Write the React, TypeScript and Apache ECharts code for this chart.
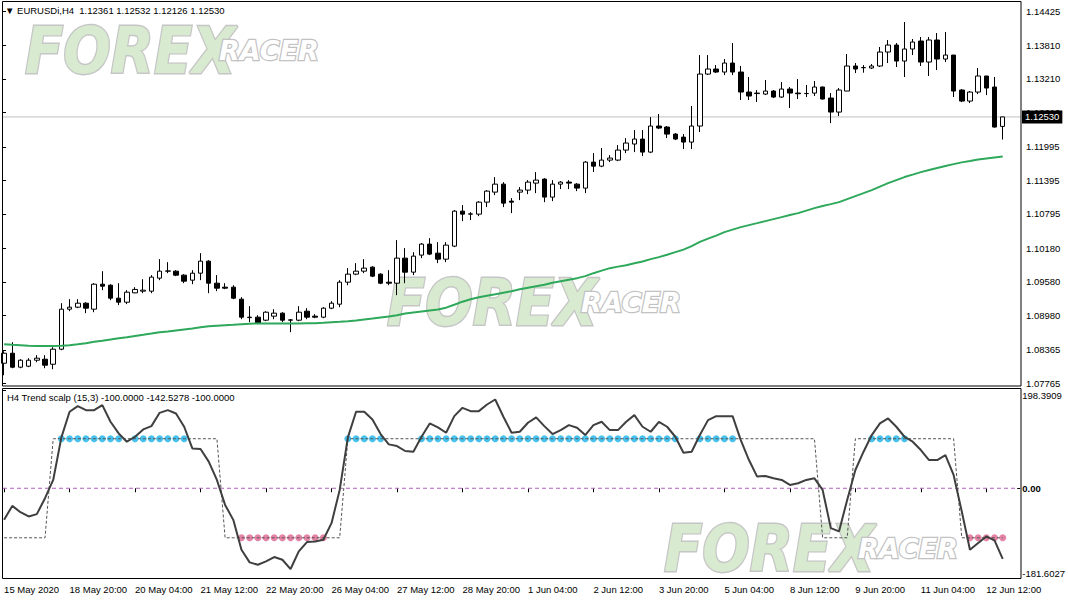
import React, { useEffect, useRef } from "react";
import * as echarts from "echarts";

const FONT = '"Liberation Sans", Arial, sans-serif';
const symbolName = "EURUSDi,H4";
const indicatorName = "H4 Trend scalp (15,3)";

const openPrices = [1.08124,1.08303,1.08053,1.08071,1.08178,1.08196,1.08106,1.08375,1.09091,1.09127,
 1.09198,1.09091,1.09538,1.09520,1.09288,1.09216,1.09383,1.09413,1.09413,1.09646,
 1.09771,1.09771,1.09700,1.09610,1.09735,1.09950,1.09556,1.09485,1.09485,1.09270,
 1.08948,1.08948,1.08894,1.08966,1.09020,1.08894,1.08894,1.09055,1.08966,1.08948,
 1.09109,1.09180,1.09574,1.09718,1.09771,1.09843,1.09718,1.09574,1.09556,1.10004,
 1.09753,1.10058,1.10255,1.10093,1.09986,1.10219,1.10845,1.10791,1.10791,1.11006,
 1.11185,1.11328,1.11024,1.11185,1.11221,1.11346,1.11418,1.11096,1.11328,1.11364,
 1.11328,1.11257,1.11722,1.11650,1.11758,1.11758,1.11937,1.12045,1.12134,1.11901,
 1.12367,1.12349,1.12223,1.12169,1.12080,1.12367,1.13297,1.13387,1.13333,1.13494,
 1.13333,1.12975,1.12957,1.12939,1.12993,1.12886,1.13029,1.12957,1.12948,1.12957,
 1.13065,1.12868,1.12617,1.12993,1.13441,1.13410,1.13405,1.13441,1.13691,1.13816,
 1.13530,1.13745,1.13888,1.13512,1.13906,1.13566,1.13637,1.13011,1.12814,1.12975,
 1.13262,1.13065,1.12361];

const closePrices = [1.08303,1.08053,1.08178,1.08178,1.08214,1.08089,1.08375,1.09091,1.09127,1.09198,
 1.09109,1.09538,1.09502,1.09288,1.09216,1.09395,1.09444,1.09431,1.09664,1.09771,
 1.09775,1.09700,1.09592,1.09735,1.09950,1.09556,1.09467,1.09467,1.09288,1.08948,
 1.08940,1.08840,1.09037,1.09020,1.08894,1.08900,1.09037,1.08948,1.08948,1.09109,
 1.09198,1.09574,1.09718,1.09771,1.09825,1.09682,1.09556,1.09556,1.10004,1.09753,
 1.10040,1.10255,1.10076,1.09986,1.10237,1.10845,1.10791,1.10796,1.11006,1.11203,
 1.11328,1.10988,1.11006,1.11221,1.11364,1.11400,1.11096,1.11328,1.11364,1.11346,
 1.11257,1.11722,1.11650,1.11758,1.11794,1.11937,1.12063,1.12134,1.11901,1.12367,
 1.12331,1.12223,1.12134,1.12080,1.12367,1.13297,1.13387,1.13333,1.13494,1.13333,
 1.12975,1.12904,1.12948,1.12993,1.12886,1.13029,1.12957,1.12945,1.12950,1.13065,
 1.12850,1.12617,1.13011,1.13441,1.13387,1.13414,1.13441,1.13691,1.13816,1.13530,
 1.13745,1.13870,1.13512,1.13906,1.13566,1.13637,1.12993,1.12814,1.12975,1.13262,
 1.13047,1.12349,1.12530];

const lowPrices = [1.07909,1.08035,1.08035,1.08053,1.08142,1.08035,1.08017,1.08357,1.09055,1.09109,
 1.09020,1.09037,1.09431,1.09252,1.09163,1.09181,1.09377,1.09377,1.09377,1.09610,
 1.09735,1.09682,1.09556,1.09538,1.09610,1.09377,1.09413,1.09449,1.09270,1.08912,
 1.08858,1.08822,1.08876,1.08912,1.08858,1.08679,1.08876,1.08912,1.08930,1.08930,
 1.09091,1.09127,1.09520,1.09700,1.09735,1.09664,1.09538,1.09520,1.09342,1.09556,
 1.09700,1.10004,1.10058,1.09915,1.09932,1.10201,1.10666,1.10684,1.10755,1.10917,
 1.11131,1.10917,1.10809,1.11042,1.11149,1.11167,1.11006,1.11024,1.11239,1.11239,
 1.11203,1.11167,1.11543,1.11632,1.11722,1.11740,1.11883,1.11901,1.11830,1.11883,
 1.12313,1.12152,1.12116,1.11955,1.11955,1.12259,1.13279,1.13315,1.13279,1.13279,
 1.12832,1.12832,1.12796,1.12921,1.12868,1.12868,1.12689,1.12850,1.12886,1.12904,
 1.12841,1.12419,1.12546,1.12993,1.13315,1.13321,1.13387,1.13423,1.13494,1.13423,
 1.13244,1.13637,1.13441,1.13262,1.13369,1.13512,1.12886,1.12796,1.12778,1.12939,
 1.12921,1.12340,1.12126];

const highPrices = [1.08339,1.08500,1.08196,1.08214,1.08268,1.08268,1.08411,1.09198,1.09270,1.09270,
 1.09216,1.09556,1.09771,1.09538,1.09556,1.09431,1.09485,1.09628,1.09700,1.09986,
 1.09932,1.09789,1.09718,1.09789,1.10093,1.09968,1.09700,1.09556,1.09520,1.09306,
 1.09145,1.08984,1.09055,1.09091,1.09037,1.08912,1.09145,1.09109,1.09002,1.09127,
 1.09234,1.09610,1.09825,1.09915,1.09986,1.09861,1.09735,1.09789,1.10326,1.10183,
 1.10111,1.10273,1.10362,1.10290,1.10290,1.10863,1.10953,1.10827,1.11024,1.11221,
 1.11454,1.11364,1.11078,1.11275,1.11400,1.11543,1.11436,1.11400,1.11382,1.11400,
 1.11346,1.11740,1.11883,1.11973,1.11847,1.12027,1.12152,1.12295,1.12295,1.12528,
 1.12582,1.12367,1.12241,1.12223,1.12725,1.13637,1.13637,1.13458,1.13566,1.13852,
 1.13441,1.13244,1.13011,1.13190,1.13011,1.13154,1.13065,1.13208,1.13101,1.13172,
 1.13074,1.12957,1.13047,1.13655,1.13494,1.13458,1.13476,1.13781,1.13906,1.13852,
 1.14228,1.13924,1.13960,1.13960,1.14031,1.14049,1.13637,1.13029,1.12993,1.13405,
 1.13262,1.13244,1.12532];

const movingAverage = [1.08464,1.08455,1.08447,1.08438,1.08434,1.08434,1.08434,1.08438,1.08447,1.08464,
 1.08482,1.08509,1.08527,1.08549,1.08572,1.08590,1.08613,1.08634,1.08656,1.08679,
 1.08692,1.08710,1.08728,1.08745,1.08769,1.08787,1.08796,1.08805,1.08813,1.08822,
 1.08831,1.08835,1.08835,1.08835,1.08835,1.08835,1.08835,1.08840,1.08840,1.08846,
 1.08858,1.08864,1.08876,1.08889,1.08907,1.08924,1.08942,1.08960,1.08984,1.09014,
 1.09032,1.09050,1.09068,1.09086,1.09118,1.09171,1.09225,1.09270,1.09306,1.09333,
 1.09359,1.09386,1.09413,1.09449,1.09476,1.09503,1.09529,1.09565,1.09592,1.09619,
 1.09646,1.09682,1.09735,1.09780,1.09825,1.09852,1.09878,1.09914,1.09945,1.09986,
 1.10022,1.10066,1.10111,1.10156,1.10219,1.10296,1.10353,1.10407,1.10469,1.10514,
 1.10559,1.10595,1.10630,1.10666,1.10702,1.10738,1.10774,1.10809,1.10854,1.10899,
 1.10935,1.10970,1.11006,1.11060,1.11114,1.11167,1.11221,1.11284,1.11346,1.11400,
 1.11454,1.11498,1.11543,1.11579,1.11615,1.11651,1.11686,1.11717,1.11740,1.11767,
 1.11788,1.11806,1.11821];

const oscillator = [-63.8,-35.6,-48.3,-57.0,-52.3,-20.1,16.8,102.7,154.4,165.8,
 157.7,157.7,167.8,134.2,110.7,94.0,104.0,118.8,125.5,152.3,
 157.7,151.0,124.2,80.5,79.2,53.7,16.8,-33.6,-63.8,-124.2,
 -149.7,-154.4,-147.7,-138.9,-144.3,-163.1,-127.5,-108.7,-107.4,-104.0,
 -70.5,-3.4,102.7,154.4,154.4,138.9,109.4,88.6,85.2,75.2,
 73.8,104.0,130.9,122.8,112.1,145.6,162.4,155.7,155.7,169.1,
 179.2,144.3,112.1,114.1,132.2,143.0,125.5,109.4,117.4,127.5,
 122.1,107.4,127.5,134.2,117.4,117.4,134.2,147.7,124.2,114.1,
 134.2,124.2,104.0,71.8,73.8,107.4,137.6,145.6,145.6,145.6,
 97.3,57.0,23.5,24.8,20.1,16.8,6.7,10.1,16.8,20.1,
 -3.4,-80.5,-87.2,-23.5,36.9,73.8,107.4,130.9,140.9,124.2,
 104.0,94.0,77.2,57.0,57.0,67.1,26.8,-47.0,-124.2,-110.7,
 -97.3,-105.4,-142.5278];

const trendStep = [-100,-100,-100,-100,-100,-100,100,100,100,100,
 100,100,100,100,100,100,100,100,100,100,
 100,100,100,100,100,100,100,-100,-100,-100,
 -100,-100,-100,-100,-100,-100,-100,-100,-100,-100,
 -100,-100,100,100,100,100,100,100,100,100,
 100,100,100,100,100,100,100,100,100,100,
 100,100,100,100,100,100,100,100,100,100,
 100,100,100,100,100,100,100,100,100,100,
 100,100,100,100,100,100,100,100,100,100,
 100,100,100,100,100,100,100,100,100,100,
 -100,-100,-100,-100,100,100,100,100,100,100,
 100,100,100,100,100,100,100,-100,-100,-100,
 -100,-100,-100];

const upDotBars = [7,8,9,10,11,12,13,14,16,17,18,19,20,21,22,42,43,44,45,46,
 51,52,53,54,55,56,57,58,59,60,61,62,63,64,65,66,67,68,69,70,71,72,73,74,75,76,77,78,79,80,81,82,
 85,86,87,88,89,106,107,108,109,110];
const downDotBars = [29,30,31,32,33,34,35,36,37,38,39,118,119,120,121,122];
const upDotLevel = 100;
const downDotLevel = -100;

const timeLabels = ["15 May 2020","18 May 20:00","20 May 04:00","21 May 12:00","22 May 20:00",
 "26 May 04:00","27 May 12:00","28 May 20:00","1 Jun 04:00","2 Jun 12:00","3 Jun 20:00",
 "5 Jun 04:00","8 Jun 12:00","9 Jun 20:00","11 Jun 04:00","12 Jun 12:00"];
const barsPerTimeLabel = 8;
const priceTicks = [1.07765,1.08365,1.08980,1.09580,1.10180,1.10795,1.11395,1.11995,1.12610,1.13210,1.13810,1.14425];
const indMax = 198.3909;
const indMin = -181.6027;

const last = openPrices.length - 1;
const lastClose = closePrices[last];

function watermark(x: number, yc: number) {
  return [
    {
      type: "text", x, y: yc, scaleY: 1.15, z: 0,
      style: {
        text: "FOREX", font: 'italic bold 56px "DejaVu Sans"', fill: "#d8eacf",
        stroke: "#c6c6c6", lineWidth: 2.5, align: "left", verticalAlign: "middle",
      },
    },
    {
      type: "text", x: x + 194, y: yc - 1, z: 0,
      style: {
        text: "RACER", font: 'italic bold 27px "DejaVu Sans"', fill: "#ffffff",
        stroke: "#c2c2c2", lineWidth: 2.5, align: "left", verticalAlign: "middle",
      },
    },
  ];
}

export default function App() {
  const ref = useRef<HTMLDivElement>(null);
  useEffect(() => {
    const chart = echarts.init(ref.current!, null, { renderer: "svg" });
    const cats = openPrices.map((_, i) => String(i));
    const candles = openPrices.map((o, i) => [o, closePrices[i], lowPrices[i], highPrices[i]]);
    const lbl = { fontFamily: FONT, fontSize: 9.5, color: "#000" };
    const indTop = 390;
    const indHeight = 188.2;
    const option: any = {
      animation: false,
      backgroundColor: "#ffffff",
      title: [
        {
          text: `▼ ${symbolName}  ${openPrices[last].toFixed(5)} ${highPrices[last].toFixed(5)} ${lowPrices[last].toFixed(5)} ${lastClose.toFixed(5)}`,
          left: 5, top: 5, padding: 0,
          textStyle: { ...lbl, fontWeight: "normal" },
        },
        {
          text: `${indicatorName} ${trendStep[last].toFixed(4)} ${oscillator[last].toFixed(4)} ${downDotLevel.toFixed(4)}`,
          left: 7, top: 392, padding: 0,
          textStyle: { ...lbl, fontWeight: "normal" },
        },
      ],
      grid: [
        { left: 3, top: 11, width: 1018, height: 372.3 },
        { left: -0.6, top: 11, width: 1007.4, height: 372.3 },
        { left: -0.6, top: indTop, width: 1007.4, height: indHeight },
        { left: 3, top: indTop, width: 1018, height: indHeight },
      ],
      xAxis: [
        { gridIndex: 0, type: "value", min: 0, max: 1, show: false },
        { gridIndex: 1, type: "category", data: cats, show: false, boundaryGap: true },
        {
          gridIndex: 2, type: "category", data: cats, boundaryGap: true,
          axisLine: { show: false },
          axisTick: { show: true, interval: (i: number) => i % barsPerTimeLabel === 0, alignWithLabel: true, length: 4, lineStyle: { color: "#000" } },
          axisLabel: {
            ...lbl, interval: (i: number) => i % barsPerTimeLabel === 0, align: "left", margin: 6,
            formatter: (_v: string, i: number) => timeLabels[i / barsPerTimeLabel] ?? "",
          },
          splitLine: { show: false },
        },
        { gridIndex: 3, type: "value", min: 0, max: 1, show: false },
      ],
      yAxis: [
        {
          gridIndex: 0, type: "value", position: "right", min: priceTicks[0], max: priceTicks[priceTicks.length - 1],
          axisLine: { show: false }, splitLine: { show: false },
          axisTick: { show: true, length: 3, customValues: priceTicks, lineStyle: { color: "#000" } },
          axisLabel: { ...lbl, customValues: priceTicks, margin: 5, formatter: (v: number) => v.toFixed(5) },
        },
        { gridIndex: 1, type: "value", min: priceTicks[0], max: priceTicks[priceTicks.length - 1], show: false },
        { gridIndex: 2, type: "value", min: indMin, max: indMax, show: false },
        {
          gridIndex: 3, type: "value", position: "right", min: indMin, max: indMax,
          axisLine: { show: false }, splitLine: { show: false },
          axisTick: { show: true, length: 3, customValues: [indMax], lineStyle: { color: "#000" } },
          axisLabel: { ...lbl, customValues: [indMax], margin: 5, verticalAlign: "top", formatter: (v: number) => v.toFixed(4) },
        },
        {
          gridIndex: 3, type: "value", position: "right", min: indMin, max: indMax,
          axisLine: { show: false }, splitLine: { show: false },
          axisTick: { show: true, length: 3, customValues: [indMin], lineStyle: { color: "#000" } },
          axisLabel: { ...lbl, customValues: [indMin], margin: 5, verticalAlign: "bottom", formatter: (v: number) => v.toFixed(4) },
        },
        {
          gridIndex: 3, type: "value", position: "right", min: indMin, max: indMax,
          axisLine: { show: false }, splitLine: { show: false },
          axisTick: { show: true, length: 3, customValues: [0], lineStyle: { color: "#000" } },
          axisLabel: { ...lbl, customValues: [0], margin: 5, fontWeight: "bold", formatter: (v: number) => v.toFixed(2) },
        },
      ],
      series: [
        {
          type: "line", xAxisIndex: 0, yAxisIndex: 0, z: 1,
          data: [[0, lastClose], [1, lastClose]], symbol: "none", silent: true,
          lineStyle: { color: "#c0c0c0", width: 1 },
          endLabel: {
            show: true, formatter: lastClose.toFixed(5), color: "#fff", backgroundColor: "#000",
            padding: [2, 3, 1, 3], fontFamily: FONT, fontSize: 9.5, distance: 1,
          },
        },
        {
          type: "candlestick", xAxisIndex: 1, yAxisIndex: 1, data: candles, barWidth: 5,
          itemStyle: { color: "#ffffff", color0: "#000000", borderColor: "#000000", borderColor0: "#000000", borderColorDoji: "#000000", borderWidth: 1 },
        },
        {
          type: "line", xAxisIndex: 1, yAxisIndex: 1, data: movingAverage, symbol: "none",
          lineStyle: { color: "#2ea85a", width: 2 },
        },
        {
          type: "line", xAxisIndex: 3, yAxisIndex: 3, z: 1, data: [[0, 0], [1, 0]], symbol: "none",
          itemStyle: { color: "#b55cc2" },
          lineStyle: { color: "#b55cc2", width: 1, type: [4, 3] },
        },
        {
          type: "line", xAxisIndex: 2, yAxisIndex: 2, data: trendStep, symbol: "none",
          lineStyle: { color: "#555555", width: 1, type: [3, 2] },
        },
        {
          type: "line", xAxisIndex: 2, yAxisIndex: 2, data: oscillator, symbol: "none",
          lineStyle: { color: "#3f3f3f", width: 2 },
        },
        {
          type: "scatter", xAxisIndex: 2, yAxisIndex: 2, data: upDotBars.map((i) => [i, upDotLevel]),
          symbolSize: 7, itemStyle: { color: "#19b3ea" },
        },
        {
          type: "scatter", xAxisIndex: 2, yAxisIndex: 2, data: downDotBars.map((i) => [i, downDotLevel]),
          symbolSize: 7, itemStyle: { color: "#de6490" },
        },
      ],
      graphic: [
        ...watermark(25, 51),
        ...watermark(387, 303),
        ...watermark(664, 549),
        { type: "rect", z: 50, silent: true, shape: { x: 2.5, y: 1.5, width: 1018.5, height: 384.5 }, style: { fill: "none", stroke: "#000", lineWidth: 1 } },
        { type: "rect", z: 50, silent: true, shape: { x: 2.5, y: 388.5, width: 1018.5, height: 190 }, style: { fill: "none", stroke: "#000", lineWidth: 1 } },
      ],
    };
    chart.setOption(option);
    return () => chart.dispose();
  }, []);
  return (
    <div
      ref={ref}
      style={{ position: "fixed", left: 0, top: 0, width: 1068, height: 600, background: "#fff" }}
    />
  );
}
